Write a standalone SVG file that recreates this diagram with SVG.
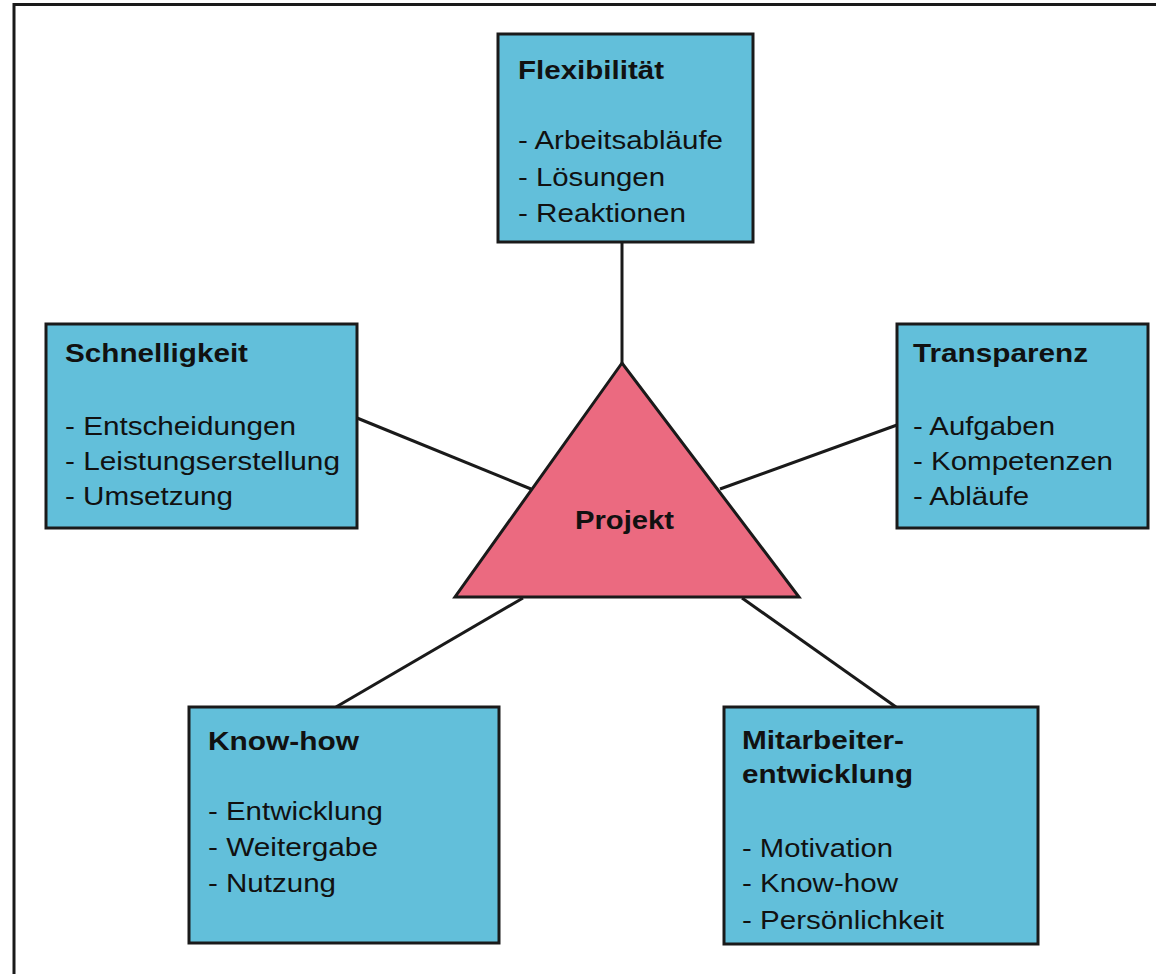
<svg xmlns="http://www.w3.org/2000/svg" width="1156" height="974" viewBox="0 0 1156 974">
<style>
.box{fill:#62BFDA;stroke:#1a1a1a;stroke-width:3}
.tri{fill:#EB6A80;stroke:#1a1a1a;stroke-width:3;stroke-linejoin:miter}
.con{stroke:#1a1a1a;stroke-width:3;fill:none}
text{font-family:"Liberation Sans",Arial,sans-serif;font-size:25.5px;fill:#111}
.t{font-weight:bold}
</style>
<rect x="0" y="0" width="1156" height="974" fill="#fff"/>
<rect x="14" y="4.5" width="1200" height="1000" fill="none" stroke="#1a1a1a" stroke-width="3"/>
<g id="connectors">
<line class="con" x1="622" y1="242" x2="622" y2="364"/>
<line class="con" x1="357" y1="418" x2="531" y2="489"/>
<line class="con" x1="897" y1="425" x2="720" y2="489"/>
<line class="con" x1="523" y1="598" x2="336" y2="707"/>
<line class="con" x1="742" y1="598" x2="896" y2="707"/>
</g>
<g id="projekt">
<polygon class="tri" points="622,363 455,597 799,597"/>
<text class="t" x="575" y="529" textLength="99" lengthAdjust="spacingAndGlyphs">Projekt</text>
</g>
<g id="flexibilitaet">
<rect class="box" x="498" y="34" width="255" height="208"/>
<text class="t" x="518" y="79" textLength="146" lengthAdjust="spacingAndGlyphs">Flexibilität</text>
<text x="518" y="149" textLength="205" lengthAdjust="spacingAndGlyphs">- Arbeitsabläufe</text>
<text x="518" y="186" textLength="147" lengthAdjust="spacingAndGlyphs">- Lösungen</text>
<text x="518" y="222" textLength="168" lengthAdjust="spacingAndGlyphs">- Reaktionen</text>
</g>
<g id="schnelligkeit">
<rect class="box" x="46" y="324" width="311" height="204"/>
<text class="t" x="65" y="362" textLength="183" lengthAdjust="spacingAndGlyphs">Schnelligkeit</text>
<text x="65" y="435" textLength="231" lengthAdjust="spacingAndGlyphs">- Entscheidungen</text>
<text x="65" y="470" textLength="275" lengthAdjust="spacingAndGlyphs">- Leistungserstellung</text>
<text x="65" y="505" textLength="168" lengthAdjust="spacingAndGlyphs">- Umsetzung</text>
</g>
<g id="transparenz">
<rect class="box" x="897" y="324" width="251" height="204"/>
<text class="t" x="913" y="362" textLength="175" lengthAdjust="spacingAndGlyphs">Transparenz</text>
<text x="913" y="435" textLength="142" lengthAdjust="spacingAndGlyphs">- Aufgaben</text>
<text x="913" y="470" textLength="200" lengthAdjust="spacingAndGlyphs">- Kompetenzen</text>
<text x="913" y="505" textLength="116" lengthAdjust="spacingAndGlyphs">- Abläufe</text>
</g>
<g id="knowhow">
<rect class="box" x="189" y="707" width="310" height="236"/>
<text class="t" x="208" y="750" textLength="151" lengthAdjust="spacingAndGlyphs">Know-how</text>
<text x="208" y="820" textLength="175" lengthAdjust="spacingAndGlyphs">- Entwicklung</text>
<text x="208" y="856" textLength="170" lengthAdjust="spacingAndGlyphs">- Weitergabe</text>
<text x="208" y="892" textLength="128" lengthAdjust="spacingAndGlyphs">- Nutzung</text>
</g>
<g id="mitarbeiterentwicklung">
<rect class="box" x="724" y="707" width="314" height="237"/>
<text class="t" x="742" y="749" textLength="162" lengthAdjust="spacingAndGlyphs">Mitarbeiter-</text>
<text class="t" x="742" y="783" textLength="171" lengthAdjust="spacingAndGlyphs">entwicklung</text>
<text x="742" y="857" textLength="151" lengthAdjust="spacingAndGlyphs">- Motivation</text>
<text x="742" y="892" textLength="156" lengthAdjust="spacingAndGlyphs">- Know-how</text>
<text x="742" y="929" textLength="202" lengthAdjust="spacingAndGlyphs">- Persönlichkeit</text>
</g>
</svg>
